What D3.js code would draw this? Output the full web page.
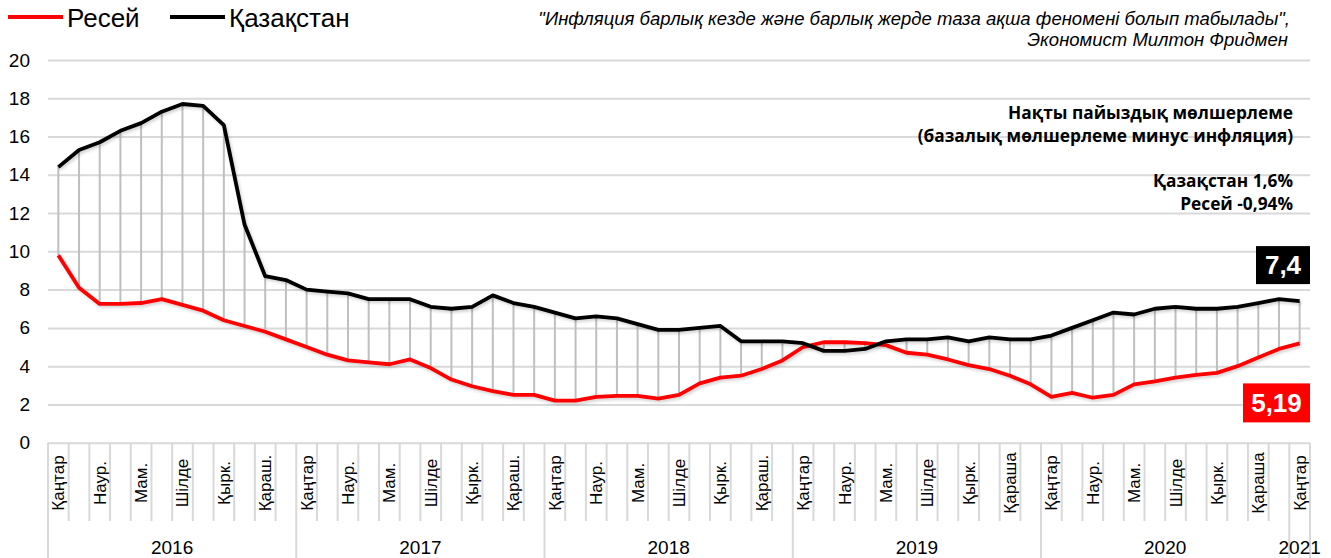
<!DOCTYPE html>
<html>
<head>
<meta charset="utf-8">
<script src="https://cdn.jsdelivr.net/npm/d3@7"></script>
<style>
  body { margin: 0; background: #fff; }
  svg { font-family: 'Liberation Sans', Arial, sans-serif; }
  .grid line { stroke: #d9d9d9; stroke-width: 2; }
  .grid text { font-size: 19px; fill: #000; }
  .note { font-family: 'Open Sans', sans-serif; font-weight: 700; font-size: 17.3px; fill: #000; }
  .quote { font-style: italic; font-size: 18.5px; fill: #000; }
</style>
</head>
<body>
<div id="chart"></div>
<script>
// month labels (every second month is shown)
var months = ['Қаңтар','','Наур.','','Мам.','','Шілде','','Қырк.','','Қараш.','',
              'Қаңтар','','Наур.','','Мам.','','Шілде','','Қырк.','','Қараш.','',
              'Қаңтар','','Наур.','','Мам.','','Шілде','','Қырк.','','Қараш.','',
              'Қаңтар','','Наур.','','Мам.','','Шілде','','Қырк.','','Қараша','',
              'Қаңтар','','Наур.','','Мам.','','Шілде','','Қырк.','','Қараша','',
              'Қаңтар'];
var years = ['2016','2017','2018','2019','2020','2021'];
var yTicks = [0,2,4,6,8,10,12,14,16,18,20];

// Kazakhstan
var kz = [14.4,15.3,15.7,16.3,16.7,17.3,17.7,17.6,16.6,11.4,8.7,8.5,
          8.0,7.9,7.8,7.5,7.5,7.5,7.1,7.0,7.1,7.7,7.3,7.1,
          6.8,6.5,6.6,6.5,6.2,5.9,5.9,6.0,6.1,5.3,5.3,5.3,
          5.2,4.8,4.8,4.9,5.3,5.4,5.4,5.5,5.3,5.5,5.4,5.4,
          5.6,6.0,6.4,6.8,6.7,7.0,7.1,7.0,7.0,7.1,7.3,7.5,
          7.4];
// Russia
var ru = [9.8,8.1,7.25,7.25,7.3,7.5,7.2,6.9,6.4,6.1,5.8,5.4,
          5.0,4.6,4.3,4.2,4.1,4.35,3.9,3.3,2.95,2.7,2.5,2.5,
          2.2,2.2,2.4,2.45,2.45,2.3,2.5,3.1,3.4,3.5,3.85,4.3,
          5.0,5.25,5.25,5.2,5.1,4.7,4.6,4.35,4.05,3.85,3.5,3.05,
          2.4,2.6,2.35,2.5,3.05,3.2,3.4,3.55,3.65,4.0,4.45,4.9,
          5.19];

var seriesNames = ['Ресей','Қазақстан'];
var seriesColors = ['#ff0000','#000000'];
var lastKz = '7,4', lastRu = '5,19';

var W = 1331, H = 558;
var pLeft = 48, pRight = 1310, pTop = 60, pBottom = 442.7;

var svg = d3.select('#chart').append('svg')
    .attr('width', W).attr('height', H);

var defs = svg.append('defs');
var f = defs.append('filter').attr('id','shadow')
    .attr('x','-5%').attr('y','-20%').attr('width','110%').attr('height','140%');
f.append('feDropShadow').attr('dx',1.5).attr('dy',2).attr('stdDeviation',1.5)
    .attr('flood-color','#000').attr('flood-opacity',0.18);

var xScale = d3.scaleBand().domain(d3.range(months.length)).range([pLeft, pRight]);
var bw = xScale.bandwidth();
var cx = function(i) { return xScale(i) + bw / 2; };
var yScale = d3.scaleLinear().domain([0, 20]).range([pBottom, pTop]);

// gridlines + y labels
var yAxis = d3.axisLeft(yScale).tickValues(yTicks).tickSize(-(pRight - pLeft)).tickPadding(18);
var gy = svg.append('g').attr('class','grid')
    .attr('transform','translate(' + pLeft + ',0)')
    .call(yAxis);
gy.select('.domain').remove();
gy.selectAll('text').attr('x', -18);

// x axis: month boundaries
var xa = svg.append('g').attr('class','xaxis');
var bounds = d3.range(months.length + 1);
xa.selectAll('line.mb').data(bounds).enter().append('line')
    .attr('class','mb')
    .attr('x1', function(d) { return pLeft + d * bw; })
    .attr('x2', function(d) { return pLeft + d * bw; })
    .attr('y1', pBottom)
    .attr('y2', function(d) { return (d % 12 === 0 || d === months.length) ? H : 521; })
    .attr('stroke','#d9d9d9').attr('stroke-width', 2);

xa.selectAll('text.month').data(months).enter().append('text')
    .attr('class','month')
    .attr('transform', function(d, i) { return 'translate(' + (cx(i) + 6) + ',483) rotate(-90)'; })
    .attr('text-anchor','middle')
    .style('font-size','17px')
    .text(function(d) { return d; });

xa.selectAll('text.year').data(years).enter().append('text')
    .attr('class','year')
    .attr('x', function(d, i) {
        var a = pLeft + i * 12 * bw;
        var b = Math.min(pRight, pLeft + (i + 1) * 12 * bw);
        return (a + b) / 2;
    })
    .attr('y', 554)
    .attr('text-anchor','middle')
    .style('font-size','19px')
    .text(function(d) { return d; });

// high-low lines
svg.append('g').selectAll('line').data(kz).enter().append('line')
    .attr('x1', function(d, i) { return cx(i); })
    .attr('x2', function(d, i) { return cx(i); })
    .attr('y1', function(d) { return yScale(d); })
    .attr('y2', function(d, i) { return yScale(ru[i]); })
    .attr('stroke','#bfbfbf').attr('stroke-width', 2);

var line = d3.line().x(function(d, i) { return cx(i); }).y(function(d) { return yScale(d); });

[ru, kz].forEach(function(s, k) {
    svg.append('path').datum(s)
        .attr('d', line)
        .attr('fill','none')
        .attr('stroke', seriesColors[k])
        .attr('stroke-width', 3.8)
        .attr('stroke-linejoin','round')
        .attr('filter','url(#shadow)');
});

// end labels
function endLabel(txt, fill, yTop, hgt, wid) {
    svg.append('rect')
        .attr('x', pRight - wid).attr('y', yTop)
        .attr('width', wid).attr('height', hgt)
        .attr('fill', fill);
    svg.append('text')
        .attr('x', pRight - wid / 2).attr('y', yTop + hgt / 2 + 9)
        .attr('text-anchor','middle')
        .style('font-size','26px').style('font-weight','700')
        .attr('fill','#fff')
        .text(txt);
}
endLabel(lastKz, '#000', yScale(kz[kz.length - 1]) - 55, 38, 54);
endLabel(lastRu, '#ff0000', yScale(ru[ru.length - 1]) + 40, 39, 67);

// legend
var leg = svg.append('g');
var legX = [8, 170];
seriesNames.forEach(function(n, k) {
    leg.append('line')
        .attr('x1', legX[k]).attr('x2', legX[k] + 55)
        .attr('y1', 17).attr('y2', 17)
        .attr('stroke', seriesColors[k]).attr('stroke-width', 4);
    leg.append('text')
        .attr('x', legX[k] + 59).attr('y', 27)
        .style('font-size','26px')
        .text(n);
});

// quote
var q = svg.append('g').attr('class','quote');
q.append('text').attr('x', 1290).attr('y', 25).attr('text-anchor','end')
    .text('"Инфляция барлық кезде және барлық жерде таза ақша феномені болып табылады",');
q.append('text').attr('x', 1288).attr('y', 46).attr('text-anchor','end')
    .text('Экономист Милтон Фридмен');

// note
var noteLines = [['Нақты пайыздық мөлшерлеме', 119], ['(базалық мөлшерлеме минус инфляция)', 142],
                 ['Қазақстан 1,6%', 187], ['Ресей -0,94%', 210]];
svg.append('g').selectAll('text').data(noteLines).enter().append('text')
    .attr('class','note')
    .attr('x', 1293).attr('y', function(d) { return d[1]; })
    .attr('text-anchor','end')
    .text(function(d) { return d[0]; });
</script>
</body>
</html>
